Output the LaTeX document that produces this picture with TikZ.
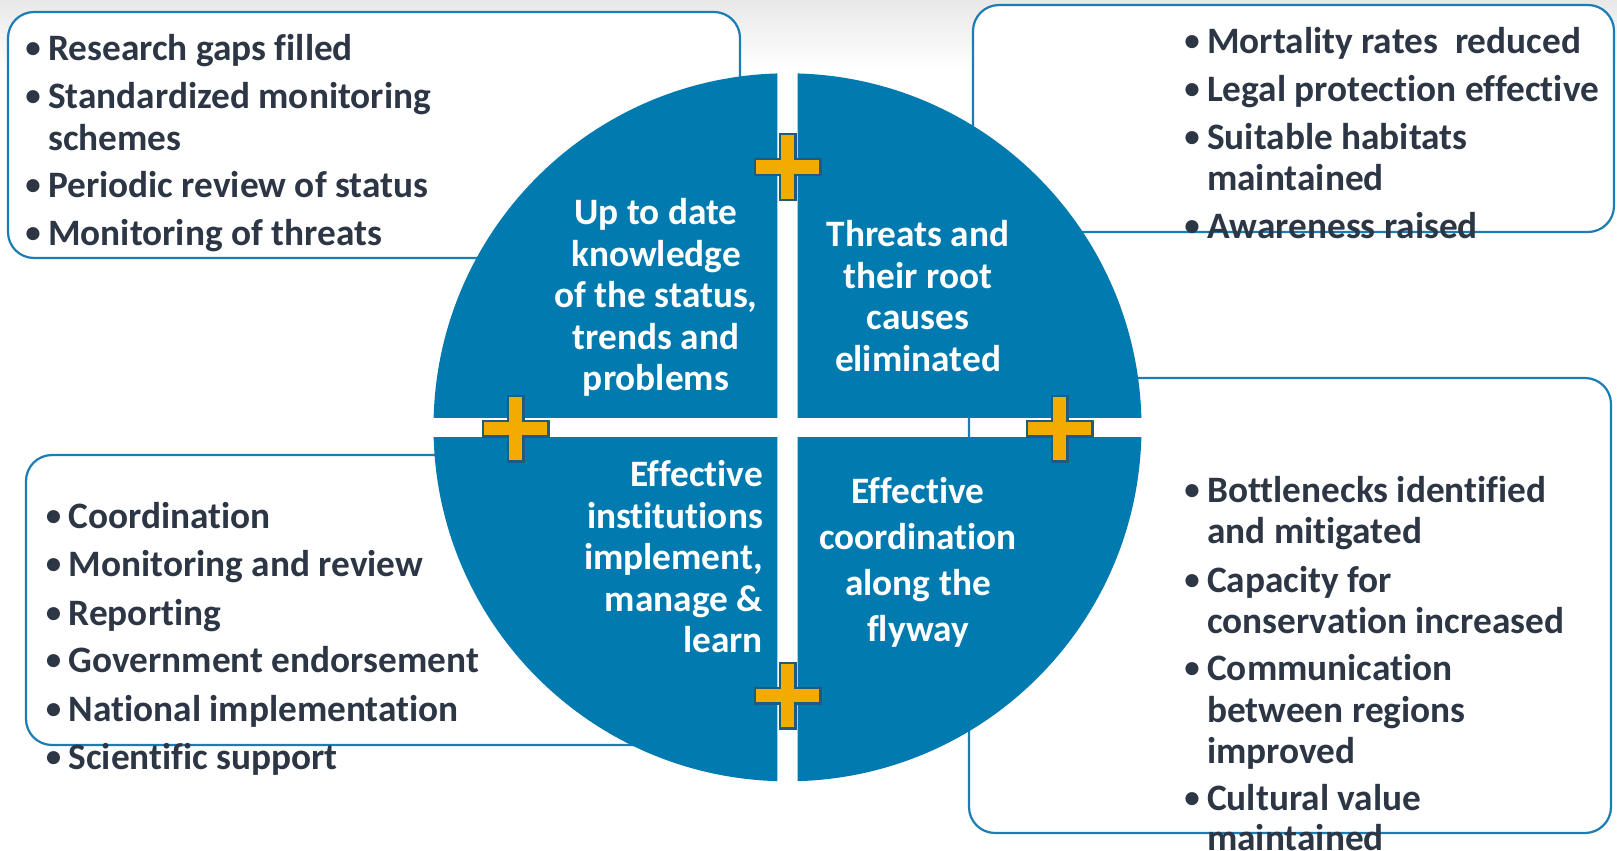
\documentclass[tikz,border=0pt]{standalone}
\usepackage{fontspec}
\setmainfont{Carlito}[Ligatures=NoCommon]
\definecolor{circblue}{HTML}{017BAF}
\definecolor{boxblue}{HTML}{1A7DB4}
\definecolor{txtdark}{HTML}{2D3645}
\definecolor{plusyellow}{HTML}{F2AC00}
\definecolor{plusedge}{HTML}{1D5C7E}
\newcommand{\bul}{\llap{\raisebox{1.2pt}{\fontsize{37}{37}\selectfont\mdseries •}\hspace{5.8pt}}}
\begin{document}
\begin{tikzpicture}[x=1pt,y=-1pt,
  box/.style={draw=boxblue, line width=2.2pt, fill=white, rounded corners=26pt},
  btxt/.style={anchor=base west, text=txtdark, font=\bfseries\fontsize{37.3}{41.5}\selectfont, inner sep=0pt},
  ctxt/.style={anchor=base, text=white, font=\bfseries\fontsize{37.3}{41.5}\selectfont, inner sep=0pt},
  rtxt/.style={ctxt, anchor=base east},
  plusshape/.style={fill=plusyellow, draw=plusedge, line width=2.4pt},
  plus/.pic={\draw[plusshape] (-7.8,-32.8) -- (7.8,-32.8) -- (7.8,-7.8) -- (32.8,-7.8) -- (32.8,7.8) -- (7.8,7.8) -- (7.8,32.8) -- (-7.8,32.8) -- (-7.8,7.8) -- (-32.8,7.8) -- (-32.8,-7.8) -- (-7.8,-7.8) -- cycle;}]
\useasboundingbox (0,0) rectangle (1617,851);
\fill[white] (0,0) rectangle (1617,851);
\shade[top color=black!9, bottom color=white] (0,0) rectangle (1617,70);
% boxes
\draw[box] (8,12) rectangle (740,258);
\draw[box] (973,5) rectangle (1614,232);
\draw[box] (26,455) rectangle (700,745);
\draw[box] (969,378) rectangle (1611,833);
% circle quadrants
\coordinate (c) at (787.5,427.3);
\begin{scope}\clip (420,60) rectangle (777.3,417.3); \fill[circblue] (c) circle[radius=354pt]; \end{scope}
\begin{scope}\clip (797.7,60) rectangle (1150,417.3); \fill[circblue] (c) circle[radius=354pt]; \end{scope}
\begin{scope}\clip (420,437.3) rectangle (777.3,790); \fill[circblue] (c) circle[radius=354pt]; \end{scope}
\begin{scope}\clip (797.7,437.3) rectangle (1150,790); \fill[circblue] (c) circle[radius=354pt]; \end{scope}
% pluses
\pic at (787.5,167) {plus};
\pic at (515.5,428.5) {plus};
\pic at (1059.7,428.5) {plus};
\pic at (787.5,695.5) {plus};
% top-left box text
\node[btxt] (tl1) at (48,61) {\bul Research gaps filled};
\node[btxt] (tl2) at (48,108.5) {\bul Standardized monitoring};
\node[btxt] (tl3) at (48,150.5) {schemes};
\node[btxt] (tl4) at (48,197.5) {\bul Periodic review of status};
\node[btxt] (tl5) at (48,245.5) {\bul Monitoring of threats};
% top-right box text
\node[btxt] (tr1) at (1207,53.5) {\bul Mortality rates\ \ reduced};
\node[btxt] (tr2) at (1207,101.5) {\bul Legal protection effective};
\node[btxt] (tr3) at (1207,149.5) {\bul Suitable habitats};
\node[btxt] (tr4) at (1207,190.5) {maintained};
\node[btxt] (tr5) at (1207,238.5) {\bul Awareness raised};
% bottom-left box text
\node[btxt] (bl1) at (68.5,528.5) {\bul Coordination};
\node[btxt] (bl2) at (68.5,576.5) {\bul Monitoring and review};
\node[btxt] (bl3) at (68.5,625.5) {\bul Reporting};
\node[btxt] (bl4) at (68.5,672.5) {\bul Government endorsement};
\node[btxt] (bl5) at (68.5,721.5) {\bul National implementation};
\node[btxt] (bl6) at (68.5,769.5) {\bul Scientific support};
% bottom-right box text
\node[btxt] (br1) at (1207,502.5) {\bul Bottlenecks identified};
\node[btxt] (br2) at (1207,543.5) {and mitigated};
\node[btxt] (br3) at (1207,592.5) {\bul Capacity for};
\node[btxt] (br4) at (1207,633.5) {conservation increased};
\node[btxt] (br5) at (1207,680.5) {\bul Communication};
\node[btxt] (br6) at (1207,722.5) {between regions};
\node[btxt] (br7) at (1207,763.5) {improved};
\node[btxt] (br8) at (1207,810.5) {\bul Cultural value};
\node[btxt] (br9) at (1207,850) {maintained};
% circle texts
\node[ctxt] (q1a) at (656,224.5) {Up to date};
\node[ctxt] (q1b) at (656,266) {knowledge};
\node[ctxt] (q1c) at (656,307.5) {of the status,};
\node[ctxt] (q1d) at (656,349) {trends and};
\node[ctxt] (q1e) at (656,390.5) {problems};
\node[ctxt] (q2a) at (918,246.5) {Threats and};
\node[ctxt] (q2b) at (918,288) {their root};
\node[ctxt] (q2c) at (918,329.5) {causes};
\node[ctxt] (q2d) at (918,371) {eliminated};
\node[rtxt] (q3a) at (763,486.5) {Effective};
\node[rtxt] (q3b) at (763,528) {institutions};
\node[rtxt] (q3c) at (763,569.5) {implement,};
\node[rtxt] (q3d) at (763,611) {manage \&};
\node[rtxt] (q3e) at (763,652.5) {learn};
\node[ctxt] (q4a) at (918,503.5) {Effective};
\node[ctxt] (q4b) at (918,549.5) {coordination};
\node[ctxt] (q4c) at (918,595.5) {along the};
\node[ctxt] (q4d) at (918,641.5) {flyway};
\end{tikzpicture}
\end{document}
